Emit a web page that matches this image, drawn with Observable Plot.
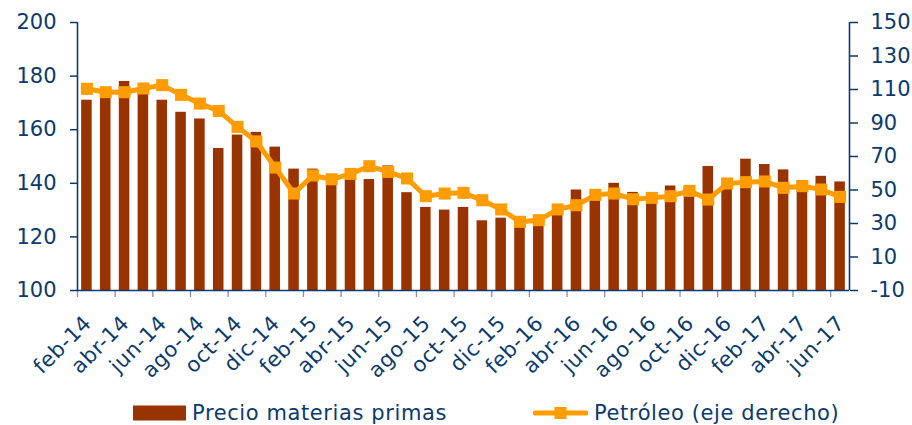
<!DOCTYPE html>
<html><head><meta charset="utf-8">
<script src="https://cdn.jsdelivr.net/npm/d3@7"></script>
<script src="https://cdn.jsdelivr.net/npm/@observablehq/plot@0.6"></script>
<style>
body{margin:0;background:#fff;font-family:"DejaVu Sans",sans-serif;color:#0b3a6c;}
#wrap{position:relative;width:912px;height:425px;overflow:hidden;}
#legend{position:relative;height:33px;font-size:21px;}
.item{position:absolute;top:6px;display:flex;align-items:center;height:30px;gap:6px;letter-spacing:0.6px;}
</style></head><body><div id="wrap"><div id="chart"></div><div id="legend"></div></div>
<script>
const months = ["feb-14","mar-14","abr-14","may-14","jun-14","jul-14","ago-14","sep-14","oct-14","nov-14","dic-14",
"ene-15","feb-15","mar-15","abr-15","may-15","jun-15","jul-15","ago-15","sep-15","oct-15","nov-15","dic-15",
"ene-16","feb-16","mar-16","abr-16","may-16","jun-16","jul-16","ago-16","sep-16","oct-16","nov-16","dic-16",
"ene-17","feb-17","mar-17","abr-17","may-17","jun-17"];
const commodity = [171,173,178,174,171,166.5,164,153,158,159,153.5,145.3,145.3,142,142,141.4,146.5,136.5,131,130,
131,126,127,124,124,128,137.5,135,140,136.6,135.5,139,138.5,146.3,139,149,147,145,141,142.6,140.5];
const oil = [110.4,108.4,108.4,110.6,112.6,106.8,101.6,97.2,87.7,79,63.4,47.9,58.7,56.4,59.6,64.2,60.8,56.9,46.3,47.9,
48.3,43.9,38.4,31,32,38.4,40.9,47.1,47.9,44.5,45.3,46.3,49.5,44.3,53.9,54.7,55.1,51.3,52.3,50.3,45.9];
const leftTicks = [100,120,140,160,180,200];
const rightTicks = [-10,10,30,50,70,90,110,130,150];
const leftDomain = [100,200];
const rightDomain = [-10,150];
const seriesNames = ["Precio materias primas","Petróleo (eje derecho)"];

const navy = "#0b3a6c", brown = "#993300", orange = "#ff9d00", tickGray = "#7f95ae";
const toLeft = v => leftDomain[0] + (v - rightDomain[0]) * (leftDomain[1]-leftDomain[0]) / (rightDomain[1]-rightDomain[0]);
const fromLeft = v => Math.round(rightDomain[0] + (v - leftDomain[0]) * (rightDomain[1]-rightDomain[0]) / (leftDomain[1]-leftDomain[0]));

const W = 912, H = 392, ML = 77, MR = 63, MT = 22, MB = 102;
const step = (W - ML - MR) / months.length;
const data = months.map((m,i) => ({m, c: commodity[i], o: toLeft(oil[i])}));
const evenMonths = months.filter((d,i) => i % 2 === 0);

const chart = Plot.plot({
  width: W, height: H, marginLeft: ML, marginRight: MR, marginTop: MT, marginBottom: MB,
  style: {fontFamily: "DejaVu Sans", fontSize: "21px", color: navy, background: "white", overflow: "visible"},
  x: {domain: months, paddingInner: 0.44, paddingOuter: 0.22, axis: null},
  y: {domain: leftDomain, axis: null},
  marks: [
    Plot.barY(data, {x: "m", y1: leftDomain[0], y2: "c", fill: brown}),
    Plot.axisX(evenMonths, {tickSize: 7, dx: -step/2, tickFormat: () => "", label: null, stroke: tickGray, strokeWidth: 1.3}),
    Plot.ruleY([leftDomain[0]], {stroke: navy, strokeWidth: 1.6}),
    Plot.ruleX([months[0]], {dx: -step/2, stroke: navy, strokeWidth: 1.6}),
    Plot.ruleX([months[months.length-1]], {dx: step/2, stroke: navy, strokeWidth: 1.6}),
    Plot.lineY(data, {x: "m", y: "o", stroke: orange, strokeWidth: 5}),
    Plot.dot(data, {x: "m", y: "o", symbol: "square", r: 6.8, fill: orange, stroke: null}),
    Plot.axisY(leftTicks, {anchor: "left", tickSize: 7, tickPadding: 14, label: null, stroke: navy, strokeWidth: 1.5, fontSize: 21, fill: navy}),
    Plot.axisY(rightTicks.map(toLeft), {anchor: "right", tickSize: 8, tickPadding: 13, label: null, tickFormat: fromLeft, stroke: navy, strokeWidth: 1.5, fontSize: 21, fill: navy}),
    Plot.axisX(evenMonths, {tickSize: 0, tickRotate: -45, tickPadding: 29, dx: 1, label: null, fontSize: 21, fill: navy})
  ]
});
d3.select(chart).selectAll('g[aria-label="x-axis tick label"] text').style("letter-spacing", "0.6px");
document.getElementById("chart").append(chart);

const legend = document.getElementById("legend");
legend.innerHTML = `
<div class="item" style="left:133px"><svg width="53" height="16"><rect x="0" y="0.5" width="53" height="15" fill="${brown}"/></svg><span>${seriesNames[0]}</span></div>
<div class="item" style="left:533px"><svg width="55" height="16"><line x1="2" x2="53" y1="8" y2="8" stroke="${orange}" stroke-width="5" stroke-linecap="round"/><rect x="21.5" y="2" width="12" height="12" fill="${orange}"/></svg><span>${seriesNames[1]}</span></div>`;
</script>
</body></html>
